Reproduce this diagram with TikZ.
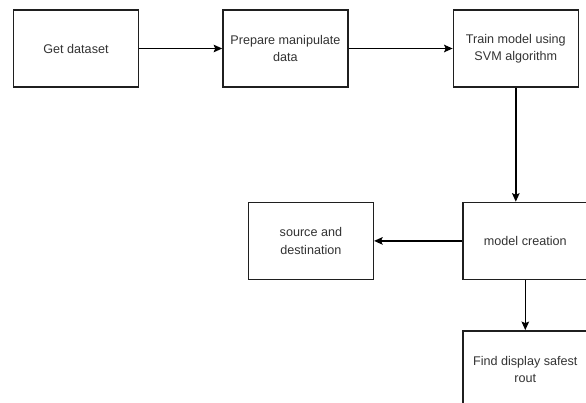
\documentclass[tikz,border=0pt]{standalone}
\usepackage{fontspec}
\setmainfont{Liberation Sans}
\usetikzlibrary{arrows.meta, positioning}

\begin{document}
\begin{tikzpicture}[
            x = 1pt, y = 1pt,
            > = {Stealth[length=8.5pt, width=7.5pt, inset=1.5pt]}, % arrow head style
            node distance = 83pt, % distance between nodes
            line width = 1.4pt % line style
        ]

        \tikzstyle{every node}=[
            font = \fontsize{12.6}{17.5}\selectfont,
            text = black!80
        ]
        \tikzstyle{stepbox}=[
            draw = black!88,
            fill = white,
            align = center,
            minimum width = 125pt,
            minimum height = 77pt,
            inner sep = 0pt
        ]

        \useasboundingbox (0,0) rectangle (586,-402);

        \node[stepbox] (get) at (76,-48.5) {Get dataset};
        \node[stepbox] (prep) [right=of get] {Prepare manipulate\\data};
        \node[stepbox] (train) [right=104pt of prep] {Train model using\\SVM algorithm};
        \node[stepbox] (model) [below=114pt of train, xshift=9.5pt] {model creation};
        \node[stepbox] (src) [left=88pt of model] {source and\\destination};
        \node[stepbox] (find) [below=50pt of model] {Find display safest\\rout};

        \path[->] (get) edge (prep);
        \path[->] (prep) edge (train);
        \draw[->] (train.south) -- (train.south |- model.north);
        \path[->] (model) edge (src);
        \path[->] (model) edge (find);

\end{tikzpicture}
\end{document}
